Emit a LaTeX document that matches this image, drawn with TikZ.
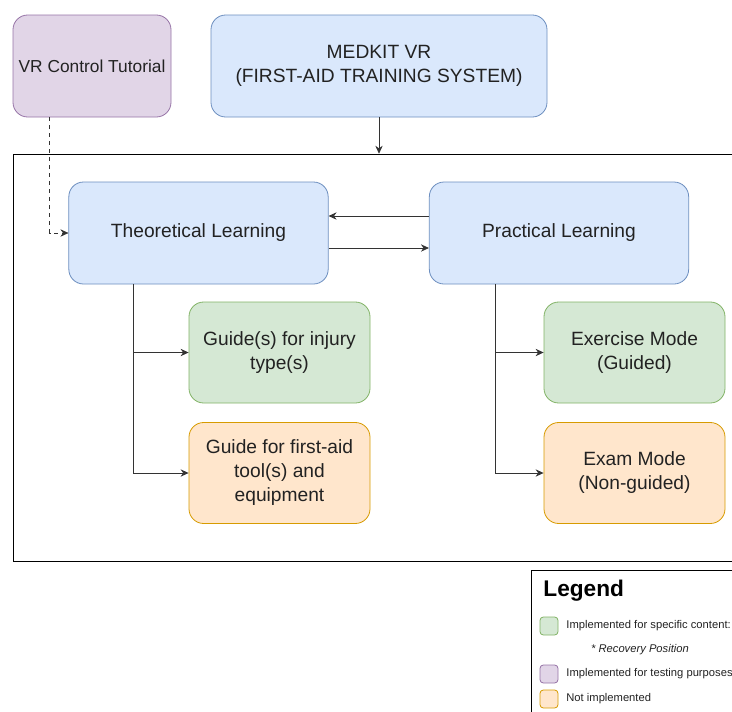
\documentclass[tikz,border=0pt]{standalone}
\usepackage{fontspec}
\setmainfont{Liberation Sans}
\usetikzlibrary{arrows.meta,positioning}

\definecolor{bluefill}{HTML}{DAE8FC}
\definecolor{blueline}{HTML}{6C8EBF}
\definecolor{purplefill}{HTML}{E1D5E7}
\definecolor{purpleline}{HTML}{9673A6}
\definecolor{greenfill}{HTML}{D5E8D4}
\definecolor{greenline}{HTML}{82B366}
\definecolor{orangefill}{HTML}{FFE6CC}
\definecolor{orangeline}{HTML}{D79B00}
\definecolor{textgrey}{HTML}{222222}
\definecolor{wire}{HTML}{333333}

\begin{document}
\begin{tikzpicture}[x=0.75pt,y=-0.75pt,>={Stealth[length=6pt,width=5.5pt]},semithick,
  box/.style={rounded corners=11pt,align=center,text=textgrey,
    font=\fontsize{14.4}{18}\selectfont,inner sep=0pt},
  wide/.style={box,minimum width=194.5pt,minimum height=76.5pt},
  small/.style={box,minimum width=135.75pt,minimum height=75.75pt},
  blue/.style={fill=bluefill,draw=blueline},
  purple/.style={fill=purplefill,draw=purpleline},
  green/.style={fill=greenfill,draw=greenline},
  orange/.style={fill=orangefill,draw=orangeline},
  link/.style={->,draw=wire},
  swatch/.style={rounded corners=2.5pt,minimum size=13.5pt,inner sep=0pt},
  legtext/.style={anchor=west,text=textgrey,font=\fontsize{8.4}{10}\selectfont,inner sep=0pt}]
  \useasboundingbox (0,0) rectangle (732,711);

  \node[box,purple,minimum width=118.5pt,minimum height=76.5pt,font=\fontsize{13}{16}\selectfont]
    (VR) at (92,66) {VR Control Tutorial};
  \node[box,blue,minimum width=252pt,minimum height=76.5pt]
    (Med) at (379,66) {MEDKIT VR\\(FIRST-AID TRAINING SYSTEM)};
  \node[draw,black,thin,minimum width=549pt,minimum height=305.25pt,inner sep=0pt]
    (frame) at (379,357.5) {};

  \node[wide,blue]   (Theo) at (198.5,233) {Theoretical Learning};
  \node[wide,blue]   (Prac) at (559,233)   {Practical Learning};
  \node[small,green]  (Inj)  at (279.5,352.5) {Guide(s) for injury\\type(s)};
  \node[small,orange] (Tool) at (279.5,473)   {Guide for first-aid\\tool(s) and\\equipment};
  \node[small,green]  (Exer) at (634.5,352.5) {Exercise Mode\\(Guided)};
  \node[small,orange] (Exam) at (634.5,473)   {Exam Mode\\(Non-guided)};

  \draw[link] (Med.south) -- (Med.south |- frame.north);
  \draw[link,dashed,thin] ([xshift=27.75pt]VR.south west) |- (Theo.west);
  \draw[link] ([yshift=12.75pt]Prac.west) -- ([yshift=12.75pt]Theo.east);
  \draw[link] ([yshift=-11.25pt]Theo.east) -- ([yshift=-11.25pt]Prac.west);
  \draw[link] ([xshift=48.75pt]Theo.south west) |- (Inj.west);
  \draw[link] ([xshift=48.75pt]Theo.south west) |- (Tool.west);
  \draw[link] ([xshift=49.5pt]Prac.south west) |- (Exer.west);
  \draw[link] ([xshift=49.5pt]Prac.south west) |- (Exam.west);

  % legend
  \draw[thin] (531,570) rectangle (760,730);
  \node[anchor=west,inner sep=0pt,font=\fontsize{17}{20}\selectfont\bfseries] (leg) at (543,591) {Legend};
  \node[swatch,green]  (s1) at (549,626) {};
  \node[swatch,purple] (s2) at (549,674) {};
  \node[swatch,orange] (s3) at (549,699) {};
  \node[legtext] (t1) at (566,626) {Implemented for specific content:};
  \node[legtext,anchor=center,font=\fontsize{8.4}{10}\selectfont\itshape] (t0) at (640,650) {* Recovery Position};
  \node[legtext] (t2) at (566,674) {Implemented for testing purposes};
  \node[legtext] (t3) at (566,699) {Not implemented};
\end{tikzpicture}
\end{document}
